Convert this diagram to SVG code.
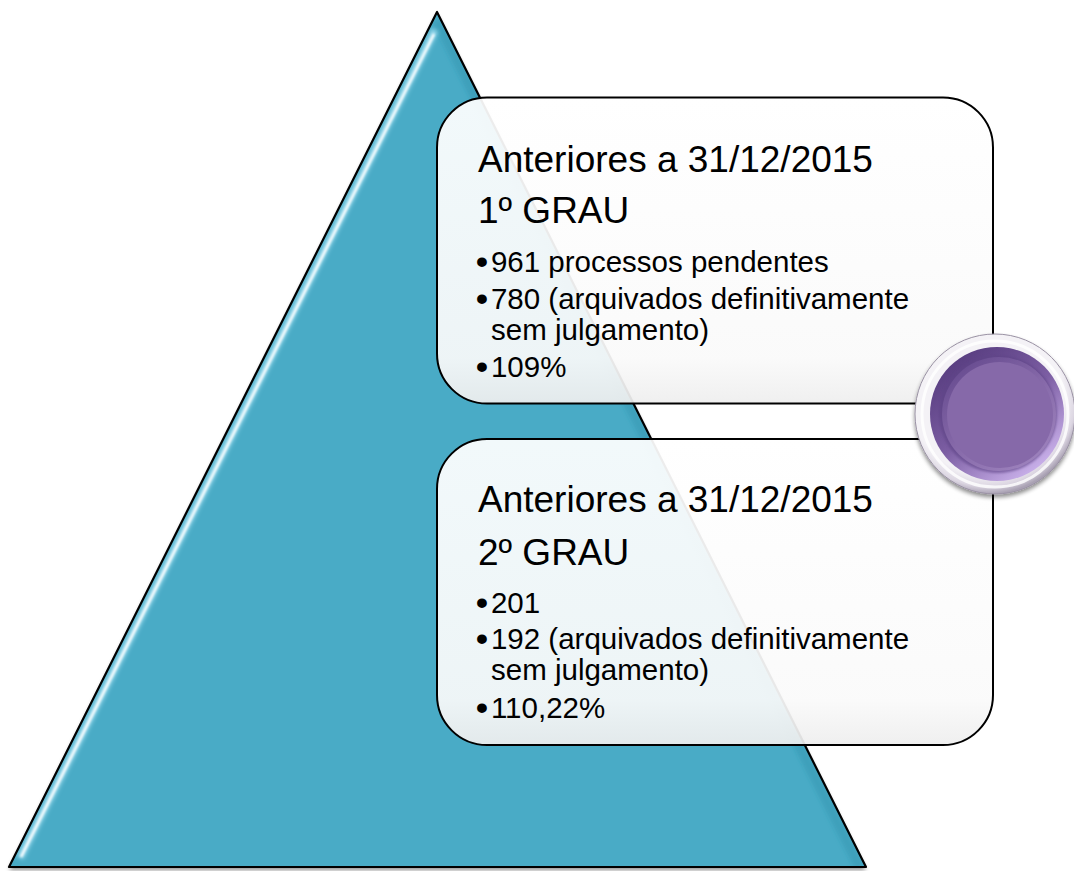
<svg xmlns="http://www.w3.org/2000/svg" width="1074" height="871" viewBox="0 0 1074 871">
<style>
  .title { font-family: "Liberation Sans", Arial, sans-serif; font-size: 37px; fill: #000; }
  .bul { font-family: "Liberation Sans", Arial, sans-serif; font-size: 29.5px; fill: #000; }
  .dot { font-size: 34px; font-weight: bold; }
  .box { fill: url(#boxGrad); fill-opacity: 0.93; stroke: #000; stroke-width: 2; }
</style>
<defs>
  <filter id="shadow" x="-10%" y="-10%" width="120%" height="120%">
    <feGaussianBlur in="SourceAlpha" stdDeviation="2"/>
    <feOffset dx="0" dy="3" result="o"/>
    <feComponentTransfer><feFuncA type="linear" slope="0.45"/></feComponentTransfer>
    <feMerge><feMergeNode/><feMergeNode in="SourceGraphic"/></feMerge>
  </filter>
  <filter id="blur2"><feGaussianBlur stdDeviation="2"/></filter>
  <filter id="blur1"><feGaussianBlur stdDeviation="1"/></filter>
  <clipPath id="triClip"><polygon points="437,12 9,867 866,867"/></clipPath>
  <linearGradient id="boxGrad" x1="0" y1="0" x2="0" y2="1">
    <stop offset="0" stop-color="#FFFFFF"/>
    <stop offset="0.85" stop-color="#FAFAFA"/>
    <stop offset="1" stop-color="#EEEEEE"/>
  </linearGradient>
  <radialGradient id="ringGrad" cx="0.45" cy="0.4" r="0.6">
    <stop offset="0.8" stop-color="#F4F2F6"/>
    <stop offset="0.92" stop-color="#DCD6E2"/>
    <stop offset="1" stop-color="#A9A1B3"/>
  </radialGradient>
  <linearGradient id="purpleRim" x1="0.2" y1="0.1" x2="0.8" y2="0.9">
    <stop offset="0" stop-color="#5A3F82"/>
    <stop offset="0.5" stop-color="#7C5EA3"/>
    <stop offset="1" stop-color="#C7AEE8"/>
  </linearGradient>
  <linearGradient id="domeRim" x1="0.2" y1="0.1" x2="0.8" y2="0.9">
    <stop offset="0" stop-color="#6B4F93"/>
    <stop offset="0.5" stop-color="#8669A9"/>
    <stop offset="1" stop-color="#9B80BB"/>
  </linearGradient>
</defs>

<g id="pyramid">
  <polygon points="437,12 9,867 866,867" fill="#4AABC6" filter="url(#shadow)"/>
  <g clip-path="url(#triClip)">
    <line x1="860" y1="868" x2="437" y2="20" stroke="#2E8BA6" stroke-width="10" stroke-opacity="0.35" filter="url(#blur2)"/>
    <line x1="9" y1="866" x2="866" y2="866" stroke="#2E8BA6" stroke-width="8" stroke-opacity="0.35" filter="url(#blur2)"/>
    <line x1="435" y1="30" x2="20" y2="858" stroke="#BDF0FF" stroke-width="7" stroke-opacity="0.7" filter="url(#blur2)"/>
    <line x1="434" y1="34" x2="21" y2="857" stroke="#FFFFFF" stroke-width="2.5" filter="url(#blur1)"/>
  </g>
  <polygon points="437,12 9,867 866,867" fill="none" stroke="#000" stroke-width="2.2" stroke-linejoin="round"/>
</g>

<g id="box1">
  <rect class="box" x="437" y="97.5" width="556" height="306" rx="50" ry="50"/>
  <text class="title" x="478" y="172">Anteriores a 31/12/2015</text>
  <text class="title" x="478" y="223">1º GRAU</text>
  <text class="bul" x="476" y="272"><tspan class="dot" dy="1">•</tspan><tspan dy="-1" dx="3">961 processos pendentes</tspan></text>
  <text class="bul" x="476" y="309"><tspan class="dot" dy="1">•</tspan><tspan dy="-1" dx="3">780 (arquivados definitivamente</tspan></text>
  <text class="bul" x="491" y="340">sem julgamento)</text>
  <text class="bul" x="476" y="377"><tspan class="dot" dy="1">•</tspan><tspan dy="-1" dx="3">109%</tspan></text>
</g>

<g id="box2">
  <rect class="box" x="437" y="439" width="556" height="306" rx="50" ry="50"/>
  <text class="title" x="478" y="512">Anteriores a 31/12/2015</text>
  <text class="title" x="478" y="565">2º GRAU</text>
  <text class="bul" x="476" y="613"><tspan class="dot" dy="1">•</tspan><tspan dy="-1" dx="3">201</tspan></text>
  <text class="bul" x="476" y="649"><tspan class="dot" dy="1">•</tspan><tspan dy="-1" dx="3">192 (arquivados definitivamente</tspan></text>
  <text class="bul" x="491" y="680">sem julgamento)</text>
  <text class="bul" x="476" y="718"><tspan class="dot" dy="1">•</tspan><tspan dy="-1" dx="3">110,22%</tspan></text>
</g>

<g id="button">
  <circle cx="995" cy="414" r="80" fill="url(#ringGrad)" stroke="#9A92A4" stroke-width="1" filter="url(#shadow)"/>
  <circle cx="995" cy="414" r="73" fill="none" stroke="#FFFFFF" stroke-width="3" stroke-opacity="0.8"/>
  <circle cx="997" cy="414" r="67" fill="url(#purpleRim)"/>
  <circle cx="998" cy="414" r="59" fill="#5E4487" opacity="0.6" filter="url(#blur1)"/>
  <circle cx="999" cy="414" r="57" fill="url(#domeRim)"/>
  <circle cx="1000" cy="415" r="53" fill="#8669A9"/>
</g>
</svg>
